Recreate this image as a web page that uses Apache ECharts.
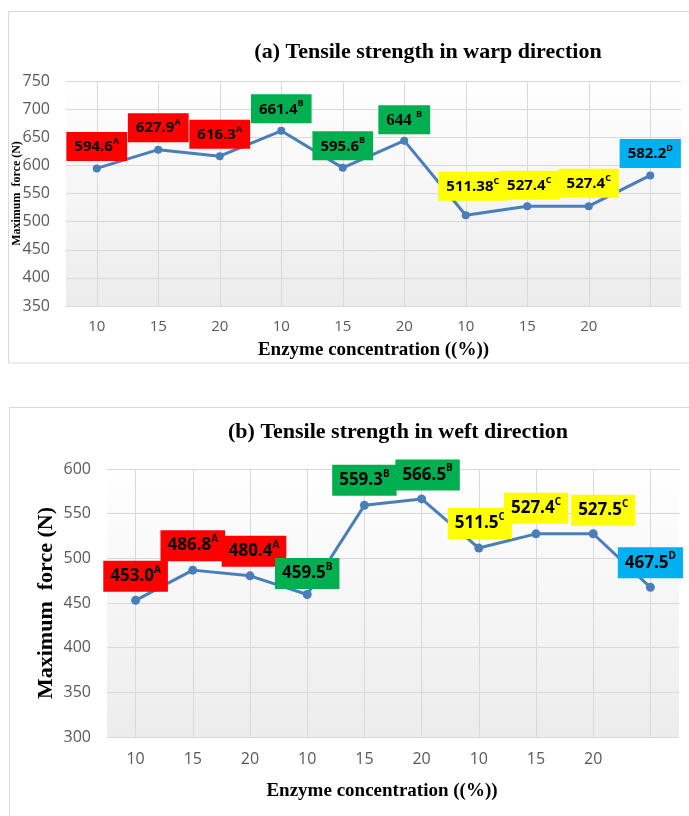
<!DOCTYPE html>
<html>
<head>
<meta charset="utf-8">
<script src="https://cdn.jsdelivr.net/npm/echarts@6/dist/echarts.min.js"></script>
<style>
  html, body { margin: 0; padding: 0; background: #ffffff; }
  #chart { width: 689px; height: 816px; }
</style>
</head>
<body>
<div id="chart"></div>
<script>
// ---------- DATA ----------
const categories = ['10', '15', '20', '10', '15', '20', '10', '15', '20', ''];

const warpTitle = '(a) Tensile strength in warp direction';
const warpValues = [594.6, 627.9, 616.3, 661.4, 595.6, 644, 511.38, 527.4, 527.4, 582.2];
const warpLabelText = ['594.6', '627.9', '616.3', '661.4', '595.6', '644', '511.38', '527.4', '527.4', '582.2'];
const warpGroups = ['A', 'A', 'A', 'B', 'B', 'B', 'C', 'C', 'C', 'D'];
const warpAxisMin = 350, warpAxisMax = 750, warpAxisStep = 50;

const weftTitle = '(b) Tensile strength in weft direction';
const weftValues = [453.0, 486.8, 480.4, 459.5, 559.3, 566.5, 511.5, 527.4, 527.5, 467.5];
const weftLabelText = ['453.0', '486.8', '480.4', '459.5', '559.3', '566.5', '511.5', '527.4', '527.5', '467.5'];
const weftGroups = ['A', 'A', 'A', 'B', 'B', 'B', 'C', 'C', 'C', 'D'];
const weftAxisMin = 300, weftAxisMax = 600, weftAxisStep = 50;

const yAxisTitle = 'Maximum  force (N)';
const xAxisTitle = 'Enzyme concentration ((%))';

// ---------- STYLE ----------
const groupColors = { A: '#ff0000', B: '#00b050', C: '#ffff00', D: '#00b0f0' };
const lineColor = '#4a7ebb';
const gridLineColor = '#d9d9d9';
const tickColor = '#595959';
const serif = '"Liberation Serif", "Times New Roman", serif';
const sans = '"Open Sans", "Noto Sans", sans-serif';

// label offsets (box centre relative to point)
const warpOffsets = [[0,-22],[0,-22],[0,-22],[0,-22],[0,-22],[0,-21],[7,-29],[2,-21],[0,-23],[0,-22]];
const weftOffsets = [[0,-24],[0,-24.5],[4,-24.5],[0,-21],[0,-25],[6,-24],[1,-24.5],[0,-25.5],[10,-23.5],[0,-24.5]];
const warpSerifIdx = [5]; // "644 B" label typeset in serif in the original

function bgGradient() {
  return new echarts.graphic.LinearGradient(0, 0, 0, 1, [
    { offset: 0, color: '#ffffff' },
    { offset: 1, color: '#ececec' }
  ]);
}

function buildData(values, groups, texts, offsets, serifIdx) {
  return values.map((v, i) => {
    const isSerif = serifIdx && serifIdx.indexOf(i) >= 0;
    const vKey = isSerif ? 'vs' : 'v';
    return {
      value: v,
      label: {
        backgroundColor: groupColors[groups[i]],
        offset: offsets[i],
        formatter: '{' + vKey + '|' + texts[i] + (isSerif ? ' ' : '') + '}{s|' + groups[i] + '}'
      }
    };
  });
}

function labelStyle(big) {
  const lh = big ? 23 : 20;
  return {
    show: true,
    position: 'inside',
    padding: big ? [4, 7, 4, 7] : [5, 8, 4, 8],
    rich: {
      v: { fontFamily: sans, fontWeight: 'bold', fontSize: big ? 17 : 15, color: '#000', lineHeight: lh },
      vs: { fontFamily: serif, fontWeight: 'bold', fontSize: 17, color: '#000', lineHeight: lh },
      s: { fontFamily: sans, fontWeight: 'bold', fontSize: big ? 10 : 9, color: '#000', verticalAlign: 'top', lineHeight: lh, padding: [0, 0, big ? 9 : 8, 0] }
    }
  };
}

function vLines(n) {
  const d = [];
  for (let i = 0; i < n; i++) d.push({ xAxis: i });
  return d;
}

const chart = echarts.init(document.getElementById('chart'), null, { renderer: 'canvas' });

const vLineMark = {
  silent: true, symbol: 'none', z: 1, label: { show: false }, animation: false,
  lineStyle: { color: gridLineColor, width: 1, type: 'solid' }, data: vLines(categories.length)
};

const option = {
  animation: false,
  backgroundColor: '#ffffff',
  title: [
    { text: warpTitle, left: 428, top: 41, textAlign: 'center', padding: 0,
      textStyle: { fontFamily: serif, fontWeight: 'bold', fontSize: 22, color: '#000' } },
    { text: weftTitle, left: 398, top: 421, textAlign: 'center', padding: 0,
      textStyle: { fontFamily: serif, fontWeight: 'bold', fontSize: 22, color: '#000' } }
  ],
  graphic: [
    { type: 'rect', z: -10, shape: { x: 8.5, y: 11.5, width: 700, height: 351.5 },
      style: { fill: 'none', stroke: '#dadada', lineWidth: 1 } },
    { type: 'rect', z: -10, shape: { x: 9.5, y: 407.5, width: 700, height: 500 },
      style: { fill: 'none', stroke: '#dadada', lineWidth: 1 } }
  ],
  grid: [
    { left: 66, right: 8, top: 81, height: 225, show: true, borderWidth: 0, backgroundColor: bgGradient(),
      containLabel: false, outerBoundsMode: 'none' },
    { left: 107, right: 10, top: 469, height: 268, show: true, borderWidth: 0, backgroundColor: bgGradient(),
      containLabel: false, outerBoundsMode: 'none' }
  ],
  xAxis: [
    { type: 'category', gridIndex: 0, data: categories, boundaryGap: true,
      axisLine: { show: false }, axisTick: { show: false }, splitLine: { show: false },
      axisLabel: { color: tickColor, fontFamily: sans, fontSize: 15, margin: 13 },
      name: xAxisTitle, nameLocation: 'middle', nameGap: 35,
      nameTextStyle: { fontFamily: serif, fontWeight: 'bold', fontSize: 19, color: '#000' } },
    { type: 'category', gridIndex: 1, data: categories, boundaryGap: true,
      axisLine: { show: false }, axisTick: { show: false }, splitLine: { show: false },
      axisLabel: { color: tickColor, fontFamily: sans, fontSize: 16, margin: 14 },
      name: xAxisTitle, nameLocation: 'middle', nameGap: 45,
      nameTextStyle: { fontFamily: serif, fontWeight: 'bold', fontSize: 19, color: '#000', padding: [0, 22, 0, 0] } }
  ],
  yAxis: [
    { type: 'value', gridIndex: 0, min: warpAxisMin, max: warpAxisMax, interval: warpAxisStep,
      axisLine: { show: false }, axisTick: { show: false },
      splitLine: { lineStyle: { color: gridLineColor, width: 1 } },
      axisLabel: { color: tickColor, fontFamily: sans, fontSize: 16, margin: 16 },
      name: yAxisTitle, nameLocation: 'middle', nameGap: 43, nameMoveOverlap: false,
      nameTextStyle: { fontFamily: serif, fontWeight: 'bold', fontSize: 12, color: '#000' } },
    { type: 'value', gridIndex: 1, min: weftAxisMin, max: weftAxisMax, interval: weftAxisStep,
      axisLine: { show: false }, axisTick: { show: false },
      splitLine: { lineStyle: { color: gridLineColor, width: 1 } },
      axisLabel: { color: tickColor, fontFamily: sans, fontSize: 16, margin: 16 },
      name: yAxisTitle, nameLocation: 'middle', nameGap: 50, nameMoveOverlap: false,
      nameTextStyle: { fontFamily: serif, fontWeight: 'bold', fontSize: 22, color: '#000' } }
  ],
  series: [
    { type: 'line', xAxisIndex: 0, yAxisIndex: 0, data: warpValues, z: 1, silent: true,
      symbol: 'none', lineStyle: { opacity: 0 }, markLine: vLineMark },
    { type: 'line', xAxisIndex: 1, yAxisIndex: 1, data: weftValues, z: 1, silent: true,
      symbol: 'none', lineStyle: { opacity: 0 }, markLine: vLineMark },
    { type: 'line', name: 'Warp', xAxisIndex: 0, yAxisIndex: 0, z: 3,
      data: buildData(warpValues, warpGroups, warpLabelText, warpOffsets, warpSerifIdx),
      symbol: 'circle', symbolSize: 8, itemStyle: { color: lineColor },
      lineStyle: { color: lineColor, width: 3 },
      label: labelStyle(false) },
    { type: 'line', name: 'Weft', xAxisIndex: 1, yAxisIndex: 1, z: 3,
      data: buildData(weftValues, weftGroups, weftLabelText, weftOffsets, null),
      symbol: 'circle', symbolSize: 9, itemStyle: { color: lineColor },
      lineStyle: { color: lineColor, width: 3 },
      label: labelStyle(true) }
  ]
};

chart.setOption(option);
</script>
</body>
</html>
